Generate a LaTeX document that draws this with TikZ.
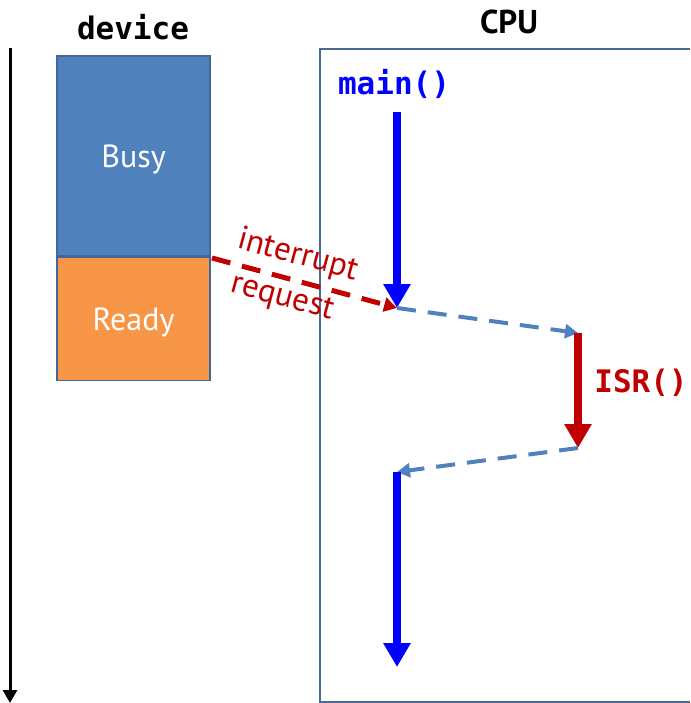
\documentclass[tikz,border=0pt]{standalone}
\usepackage{fontspec}
\setmainfont{PT Sans}
\newfontfamily\codefont{DejaVu Sans Mono}
\usetikzlibrary{arrows.meta,positioning}

\definecolor{boxblue}{HTML}{4F81BD}
\definecolor{boxedge}{HTML}{41669A}
\definecolor{readyorange}{HTML}{F79646}
\definecolor{irqred}{HTML}{C00000}
\definecolor{cpuedge}{HTML}{4A6A94}
\definecolor{mainblue}{HTML}{0000FF}

\begin{document}
\begin{tikzpicture}
[x=1pt,y=-1pt,
stage/.style={
	draw=boxedge,
        line width=1.5pt,
        minimum width=153pt,
        inner sep=0pt,
        text depth=0pt,
        text=white,
        font=\fontsize{32}{36}\selectfont,
    },
code/.style={font=\codefont\bfseries\fontsize{31}{36}\selectfont},
flow/.style={line width=8pt, -{Triangle[length=24pt,width=26pt]}},
hop/.style={line width=4pt, dash pattern=on 19pt off 12pt, -{Triangle[length=13pt,width=14pt]}},
]
\useasboundingbox (0,0) rectangle (690,703);

% draw the time line
\coordinate (t0) at (10,48);
\coordinate (t1) at (10,703);
\draw[line width=3pt, -{Triangle[length=13pt,width=14pt]}] (t0) -- (t1);

% draw the device
\node[code, text=black] (devlabel) at (133,27) {device};
\node[stage, fill=boxblue, minimum height=200pt] (busy) at (133.5,156) {Busy};
\node[stage, fill=readyorange, minimum height=123pt, below=0pt of busy] (ready) {Ready};

% draw the cpu
\node[font=\bfseries\fontsize{33}{38}\selectfont] (cpulabel) at (509,22) {CPU};
\draw[cpuedge, line width=2pt] (690,49) -- (320,49) -- (320,702) -- (690,702);
\node[code, text=mainblue] (mainlabel) at (394,84) {main()};
\node[code, text=irqred] (isrlabel) at (641,383) {ISR()};

\coordinate (irq) at (212,258);
\coordinate (m1top) at (397,112);
\coordinate (m1end) at (397,308);
\coordinate (isrtop) at (578,333);
\coordinate (isrend) at (578,448);
\coordinate (m2top) at (397,472);
\coordinate (m2end) at (397,667);

%draw lines
\draw[flow, mainblue] (m1top) -- (m1end);
\draw[hop, irqred, line width=5pt] (irq) -- node[sloped, above=7pt, pos=0.43, inner sep=0pt, font=\fontsize{33}{36}\selectfont] {interrupt} node[sloped, below=5pt, pos=0.41, inner sep=0pt, font=\fontsize{33}{36}\selectfont] {request} (m1end);
\draw[hop, boxblue] (m1end) -- (isrtop);
\draw[flow, irqred] (isrtop) -- (isrend);
\draw[hop, boxblue] (isrend) -- (m2top);
\draw[flow, mainblue] (m2top) -- (m2end);
\end{tikzpicture}
\end{document}
